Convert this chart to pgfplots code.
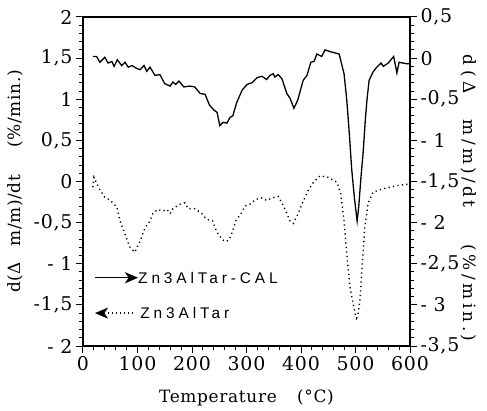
\documentclass[border=0pt]{standalone}
\usepackage{pgfplots}
\pgfplotsset{compat=1.18}
\usetikzlibrary{arrows.meta}
\usepackage{fontspec}
\setmainfont{DejaVu Serif}[LetterSpace=4]
\newfontfamily\legfont{Liberation Sans}[LetterSpace=25]
\begin{document}
\begin{tikzpicture}
\pgfplotsset{
  common/.style={
    scale only axis, width=327bp, height=329bp,
    xmin=0, xmax=600,
    tick align=outside,
    major tick length=7bp, minor tick length=4bp,
    axis line style={line width=1.2bp},
    every tick/.style={black, line width=1bp},
    tick label style={font=\fontsize{19}{19}\selectfont},
    label style={font=\fontsize{17}{17}\selectfont},
  }
}
\begin{axis}[common,
  ymin=-2, ymax=2,
  xtick={0,100,...,600}, minor x tick num=4,
  xticklabels={0,100,200,300,400,500,600},
  ytick={-2,-1.5,...,2}, minor y tick num=4,
  yticklabels={- 2,{-1,5},- 1,{-0,5},0,{0,5},1,{1,5},2},
  xtick pos=bottom, ytick pos=left,
  xlabel={Temperature\hspace{1.2em}(°C)},
  xlabel style={at={(axis description cs:0.5,-0.158)}, anchor=center},
  ylabel={d(Δ\hspace{0.9em}m/m)/dt\hspace{1.6em}(\%/min.)},
  ylabel style={at={(axis description cs:-0.208,0.5)}, anchor=center},
]
\addplot[black, line width=1.4bp, dash pattern=on 1.2bp off 3.3bp] coordinates {
(18,-0.07) (20,0.05) (25,-0.02) (31,-0.10) (40,-0.19) (50,-0.23) (62,-0.31)
(68,-0.48) (77,-0.64) (86,-0.80) (95,-0.86) (105,-0.72) (114,-0.56) (123,-0.48)
(128,-0.39) (137,-0.34) (147,-0.36) (154,-0.34) (160,-0.39) (165,-0.33) (176,-0.28)
(187,-0.26) (193,-0.33) (205,-0.33) (218,-0.39) (227,-0.46) (238,-0.48) (242,-0.56)
(248,-0.64) (256,-0.71) (262,-0.73) (268,-0.71) (273,-0.63) (281,-0.47) (290,-0.39)
(297,-0.30) (308,-0.27) (316,-0.22) (328,-0.20) (337,-0.23) (347,-0.20) (358,-0.18)
(369,-0.31) (374,-0.39) (380,-0.48) (386,-0.51) (394,-0.40) (402,-0.27) (413,-0.11)
(424,0.00) (435,0.07) (450,0.05) (466,-0.01) (473,-0.15) (479,-0.48) (484,-0.88)
(490,-1.29) (499,-1.60) (502,-1.66) (505,-1.60) (508,-1.45) (513,-0.96) (517,-0.56)
(523,-0.27) (532,-0.13) (550,-0.09) (576,-0.05) (600,-0.03)
};
\draw[-{Stealth[length=13bp,width=11bp,inset=3.5bp]}, line width=1.2bp] (axis cs:22,-1.17) -- (axis cs:101,-1.17);
\node[anchor=west, inner sep=0pt, font=\legfont\fontsize{15.5}{16}\selectfont] at (axis cs:101,-1.17) {Zn3AlTar-CAL};
\draw[{Stealth[length=13bp,width=11bp,inset=3.5bp]}-, line width=1.3bp, dash pattern=on 1bp off 3bp] (axis cs:22,-1.6) -- (axis cs:95,-1.6);
\node[anchor=west, inner sep=0pt, font=\legfont\fontsize{15.5}{16}\selectfont] at (axis cs:105,-1.6) {Zn3AlTar};
\coordinate (bl) at (rel axis cs:0,0);
\coordinate (tr) at (rel axis cs:1,1);
\end{axis}
\begin{axis}[common,
  ymin=-3.5, ymax=0.5,
  axis x line=none, axis y line*=right,
  ytick={-3.5,-3,...,0.5}, minor y tick num=4,
  yticklabels={{-3,5},- 3,{-2,5},- 2,{-1,5},- 1,{-0,5},0,{0,5}},
  ylabel={\addfontfeatures{LetterSpace=20}d\hspace{0.3em}(\hspace{0.3em}Δ\hspace{1.5em}m/m)/dt\hspace{2.2em}(\%/min.)},
  ylabel style={at={(axis description cs:1.18,0.45)}, anchor=center, rotate=180},
]
\addplot[black, line width=1.3bp] coordinates {
(18,0.02) (25,0.02) (31,-0.05) (40,0.01) (46,-0.06) (53,-0.04) (57,-0.10)
(63,-0.02) (71,-0.09) (77,-0.05) (83,-0.11) (90,-0.09) (97,-0.12) (105,-0.14)
(112,-0.09) (117,-0.16) (123,-0.11) (132,-0.21) (141,-0.20) (150,-0.31) (160,-0.34)
(165,-0.29) (170,-0.32) (176,-0.28) (185,-0.35) (196,-0.34) (205,-0.35) (215,-0.43)
(224,-0.44) (232,-0.57) (240,-0.63) (246,-0.66) (251,-0.82) (257,-0.78) (264,-0.79)
(270,-0.72) (275,-0.70) (282,-0.54) (292,-0.39) (301,-0.32) (310,-0.30) (319,-0.24)
(328,-0.22) (337,-0.26) (343,-0.21) (349,-0.19) (352,-0.23) (358,-0.20) (365,-0.25)
(374,-0.43) (380,-0.49) (387,-0.61) (394,-0.51) (404,-0.27) (411,-0.21) (418,-0.05)
(424,-0.04) (429,0.05) (438,0.02) (444,0.10) (453,0.08) (470,0.05) (479,-0.19)
(484,-0.51) (489,-0.95) (493,-1.35) (498,-1.70) (503,-1.98) (506,-1.80) (510,-1.45)
(514,-1.15) (518,-0.75) (521,-0.51) (525,-0.27) (532,-0.17) (539,-0.11) (547,-0.06)
(551,-0.10) (560,-0.06) (570,0.02) (576,-0.18) (580,-0.05) (587,-0.06) (596,-0.07)
(600,-0.06)
};
\end{axis}
\pgfresetboundingbox
\path[use as bounding box] ([shift={(-83bp,-65bp)}]bl) rectangle ([shift={(77bp,17bp)}]tr);
\end{tikzpicture}
\end{document}
